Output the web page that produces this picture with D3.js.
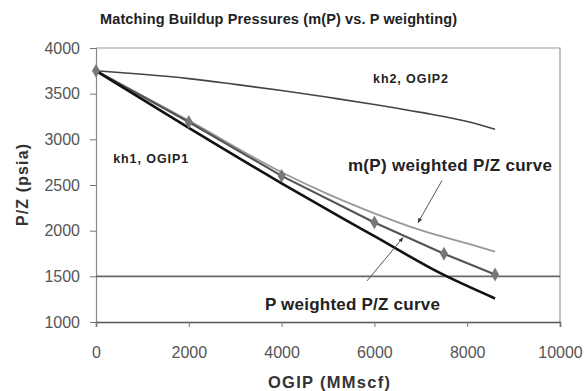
<!DOCTYPE html>
<html>
<head>
<meta charset="utf-8">
<script src="https://cdn.jsdelivr.net/npm/d3@7"></script>
<style>
  body { margin: 0; background: #fff; }
  svg { display: block; font-family: "Liberation Sans", Arial, sans-serif; }
</style>
</head>
<body>
<div id="chart"></div>
<script>
// OGIP (MMscf) vs P/Z (psia)
const kh2Ogip = [0, 1000, 2000, 3000, 4000, 5000, 6000, 7000, 8000, 8600]
const kh2Pz = [3750, 3712, 3665, 3602, 3535, 3460, 3382, 3295, 3195, 3110]

const pWeightedOgip = [0, 2000, 4000, 5260, 6000, 7400, 8600]
const pWeightedPz = [3750, 3125, 2518, 2150, 1940, 1540, 1258]

const mpWeightedOgip = [0, 2000, 4000, 5000, 6000, 7000, 8000, 8600]
const mpWeightedPz = [3750, 3205, 2640, 2400, 2190, 2005, 1860, 1770]

const pointOgip = [0, 2000, 4000, 6000, 7500, 8600]
const pointPz = [3750, 3190, 2600, 2090, 1747, 1520]

const abandonOgip = [0, 10000]
const abandonPz = [1500, 1500]

const xTicks = [0, 2000, 4000, 6000, 8000, 10000]
const yTicks = [1000, 1500, 2000, 2500, 3000, 3500, 4000]

const width = 587, height = 391
const margin = { top: 48, right: 27, bottom: 70, left: 96 }

const svg = d3.select('#chart').append('svg')
    .attr('width', width)
    .attr('height', height)

const x = d3.scaleLinear().domain([0, 10000]).range([margin.left, width - margin.right])
const y = d3.scaleLinear().domain([1000, 4000]).range([height - margin.bottom + 1, margin.top])

// title
svg.append('text')
    .attr('x', 100).attr('y', 24)
    .attr('textLength', 357)
    .attr('font-size', 14.5).attr('font-weight', 'bold').attr('fill', '#222')
    .text('Matching Buildup Pressures (m(P)  vs. P weighting)')

// plot frame (top + right)
svg.append('path')
    .attr('d', `M${x(0)},${y(4000)}H${x(10000)}V${y(1000)}`)
    .attr('fill', 'none').attr('stroke', '#999').attr('stroke-width', 1.2)

// axes
const yAxis = svg.append('g')
    .attr('transform', `translate(${x(0)},0)`)
    .call(d3.axisLeft(y).tickValues(yTicks).tickSize(6).tickPadding(10).tickFormat(d3.format('d')))
const xAxis = svg.append('g')
    .attr('transform', `translate(0,${y(1000)})`)
    .call(d3.axisBottom(x).tickValues(xTicks).tickSize(5).tickPadding(20).tickFormat(d3.format('d')))
yAxis.select('.domain').attr('stroke', '#888').attr('stroke-width', 1.2)
xAxis.select('.domain').attr('stroke', '#555').attr('stroke-width', 1.6)
svg.selectAll('.tick line').attr('stroke', '#777')
svg.selectAll('.tick text').attr('font-size', 16).attr('fill', '#555')
    .attr('font-family', '"Liberation Sans", Arial, sans-serif')

// axis titles
svg.append('text')
    .attr('x', 268).attr('y', 388)
    .attr('textLength', 122)
    .attr('font-size', 16.5).attr('font-weight', 'bold').attr('fill', '#333')
    .text('OGIP (MMscf)')
svg.append('text')
    .attr('transform', 'translate(28,226) rotate(-90)')
    .attr('textLength', 82)
    .attr('font-size', 16).attr('font-weight', 'bold').attr('fill', '#333')
    .text('P/Z (psia)')

const line = d3.line().x(d => x(d[0])).y(d => y(d[1]))
const curve = d3.line().x(d => x(d[0])).y(d => y(d[1])).curve(d3.curveMonotoneX)
const zip = (a, b) => a.map((v, i) => [v, b[i]])

// abandonment line at 1500
svg.append('path')
    .attr('d', line(zip(abandonOgip, abandonPz)))
    .attr('fill', 'none').attr('stroke', '#666').attr('stroke-width', 1.6)

// kh2, OGIP2
svg.append('path')
    .attr('d', curve(zip(kh2Ogip, kh2Pz)))
    .attr('fill', 'none').attr('stroke', '#444').attr('stroke-width', 1.6)

// m(P) weighted curve
svg.append('path')
    .attr('d', curve(zip(mpWeightedOgip, mpWeightedPz)))
    .attr('fill', 'none').attr('stroke', '#999').attr('stroke-width', 1.8)

// measured points line
svg.append('path')
    .attr('d', line(zip(pointOgip, pointPz)))
    .attr('fill', 'none').attr('stroke', '#555').attr('stroke-width', 2.2)

// P weighted curve
svg.append('path')
    .attr('d', curve(zip(pWeightedOgip, pWeightedPz)))
    .attr('fill', 'none').attr('stroke', '#111').attr('stroke-width', 2.6)

// diamonds
svg.append('g').selectAll('path')
    .data(zip(pointOgip, pointPz))
    .join('path')
    .attr('transform', d => `translate(${x(d[0])},${y(d[1])})`)
    .attr('d', d3.symbol(d3.symbolDiamond, 55))
    .attr('fill', '#777')

// labels
const labels = [
    { t: 'kh1, OGIP1', ox: 370, py: 2736, s: 12.5, w: 75 },
    { t: 'kh2, OGIP2', ox: 5970, py: 3615, s: 12.5, w: 75 },
    { t: 'm(P) weighted P/Z curve', ox: 5430, py: 2648, s: 17, w: 204 },
    { t: 'P weighted P/Z curve', ox: 3640, py: 1132, s: 17, w: 175 }
]
svg.append('g').selectAll('text')
    .data(labels)
    .join('text')
    .attr('x', d => x(d.ox)).attr('y', d => y(d.py))
    .attr('textLength', d => d.w)
    .attr('font-size', d => d.s).attr('font-weight', 'bold').attr('fill', '#222')
    .text(d => d.t)

// arrows
const arrows = [
    { from: [7457, 2549], to: [6940, 2088] },
    { from: [5840, 1450], to: [6616, 1923] }
]
svg.append('defs').append('marker')
    .attr('id', 'ah').attr('viewBox', '0 0 10 10')
    .attr('refX', 9).attr('refY', 5)
    .attr('markerWidth', 5).attr('markerHeight', 5)
    .attr('orient', 'auto')
    .append('path').attr('d', 'M0,1L10,5L0,9Z').attr('fill', '#333')
svg.append('g').selectAll('line')
    .data(arrows)
    .join('line')
    .attr('x1', d => x(d.from[0])).attr('y1', d => y(d.from[1]))
    .attr('x2', d => x(d.to[0])).attr('y2', d => y(d.to[1]))
    .attr('stroke', '#555').attr('stroke-width', 1)
    .attr('marker-end', 'url(#ah)')
</script>
</body>
</html>
